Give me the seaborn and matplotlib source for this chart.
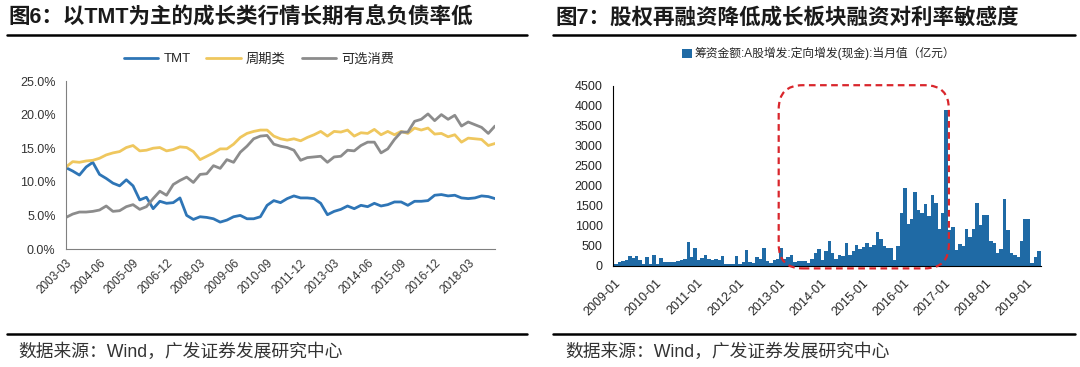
import numpy as np
import pandas as pd
import seaborn as sns
import matplotlib.pyplot as plt
from matplotlib.patches import FancyBboxPatch
from matplotlib.lines import Line2D

# left chart: quarterly interest-bearing debt ratio (%)
quarters = list(pd.date_range('2003-03-01', '2019-03-01', freq='3MS').strftime('%Y-%m'))
tmt = [12.1, 11.6, 11.0, 12.2, 12.9, 11.1, 10.5, 9.8, 9.4, 10.3,
       9.4, 7.3, 7.7, 6.0, 7.1, 6.8, 6.9, 7.6, 5.0, 4.4,
       4.8, 4.7, 4.5, 4.0, 4.3, 4.8, 5.0, 4.5, 4.5, 4.8,
       6.5, 7.2, 6.9, 7.5, 7.9, 7.6, 7.6, 7.5, 6.8, 5.1,
       5.6, 5.9, 6.4, 6.0, 6.5, 6.3, 6.8, 6.4, 6.6, 7.0,
       7.0, 6.5, 7.1, 7.1, 7.2, 8.0, 8.1, 7.9, 8.0, 7.6,
       7.5, 7.6, 7.9, 7.8, 7.5]
cyclical = [12.2, 13.0, 12.9, 13.1, 13.2, 13.5, 14.0, 14.3, 14.5, 15.1,
            15.4, 14.6, 14.7, 15.0, 15.1, 14.6, 14.8, 15.2, 15.1, 14.5,
            13.3, 13.8, 14.3, 14.9, 14.9, 15.6, 16.6, 17.2, 17.5, 17.7,
            17.7, 16.8, 16.4, 16.2, 16.4, 16.1, 16.6, 17.0, 17.5, 16.8,
            17.5, 17.4, 17.7, 16.8, 17.3, 17.2, 17.8, 17.0, 17.5, 17.0,
            17.5, 17.2, 18.0, 17.7, 18.0, 17.1, 17.2, 16.7, 17.0, 15.9,
            16.5, 16.4, 16.3, 15.4, 15.7]
consumer = [4.7, 5.2, 5.5, 5.5, 5.6, 5.8, 6.4, 5.6, 5.7, 6.3,
            6.6, 5.9, 6.3, 7.5, 8.6, 8.0, 9.6, 10.2, 10.7, 9.9,
            11.1, 11.2, 12.4, 12.0, 13.3, 12.9, 14.4, 15.3, 16.4, 16.8,
            16.9, 15.6, 15.3, 15.1, 14.7, 13.2, 13.6, 13.7, 13.8, 12.9,
            13.7, 13.8, 14.7, 14.6, 15.4, 15.9, 15.9, 14.3, 14.9, 16.3,
            17.4, 17.4, 19.0, 19.3, 20.1, 19.1, 20.0, 19.3, 19.9, 18.3,
            18.9, 18.5, 18.1, 17.2, 18.3]
series_names = ['TMT', '周期类', '可选消费']

# right chart: monthly private placement amount (100m yuan)
months = list(pd.date_range('2009-01-01', periods=124, freq='MS').strftime('%Y-%m'))
amount = [40, 110, 120, 140, 240, 190, 250, 160, 40, 220, 40, 270,
          60, 190, 110, 90, 110, 90, 120, 140, 170, 590, 220, 450,
          140, 210, 270, 170, 140, 170, 140, 240, 60, 60, 40, 240,
          60, 110, 390, 110, 80, 220, 180, 450, 130, 80, 150, 180,
          460, 170, 230, 270, 100, 120, 120, 120, 80, 170, 320, 420,
          150, 370, 630, 330, 170, 280, 250, 570, 270, 370, 530, 430,
          470, 580, 470, 520, 850, 680, 500, 460, 440, 150, 510, 1330,
          1950, 1050, 1170, 1860, 1400, 1330, 1550, 1250, 1770, 1580, 920, 1330,
          3900, 900, 980, 400, 550, 500, 920, 720, 930, 1580, 1020, 1280,
          1270, 630, 570, 330, 420, 1680, 900, 330, 270, 220, 630, 1170,
          1180, 80, 220, 370]
bar_label = '筹资金额:A股增发:定向增发(现金):当月值（亿元）'

sns.set_style('white')
plt.rcParams['font.family'] = ['Liberation Sans', 'Noto Sans CJK SC']

W, H = 1080, 367
fig = plt.figure(figsize=(W / 100, H / 100), dpi=100)

def px(x0, y0, x1, y1):
    return [x0 / W, 1 - y1 / H, (x1 - x0) / W, (y1 - y0) / H]

# ---------- left ----------
ax1 = fig.add_axes(px(66, 81, 495, 249))
df = pd.DataFrame({
    'q': np.tile(np.arange(len(quarters)), 3),
    'v': tmt + cyclical + consumer,
    's': np.repeat(series_names, len(quarters)),
})
sns.lineplot(data=df, x='q', y='v', hue='s', hue_order=series_names,
             palette=['#2E75B6', '#EFC75E', '#8C8C8C'], linewidth=2, ax=ax1)
ax1.set_xlim(0, len(quarters) - 1)
ax1.set_ylim(0, 25)
ax1.set_yticks(range(0, 26, 5))
ax1.set_yticklabels(['%.1f%%' % v for v in range(0, 26, 5)])
ax1.set_xticks(range(0, len(quarters), 5))
ax1.set_xticklabels(quarters[::5], rotation=45, ha='right', rotation_mode='anchor')
ax1.set_xticks(range(0, len(quarters), 6), minor=True)
ax1.tick_params(axis='x', which='major', length=0, pad=6, labelsize=8.5, colors='#333333')
ax1.tick_params(axis='x', which='minor', length=4, color='#808080', direction='out')
ax1.tick_params(axis='y', length=4, color='#808080', labelsize=9, colors='#333333')
ax1.tick_params(axis='y', color='#808080')
ax1.set_xlabel('')
ax1.set_ylabel('')
for s in ['top', 'right']:
    ax1.spines[s].set_visible(False)
for s in ['left', 'bottom']:
    ax1.spines[s].set_color('#808080')
h, l = ax1.get_legend_handles_labels()
ax1.legend(h, l, loc='center', bbox_to_anchor=(0.45, 1.13), ncol=3, frameon=False,
           fontsize=9.5, handlelength=2.6, columnspacing=1.2, handletextpad=0.4)

# ---------- right ----------
ax2 = fig.add_axes(px(613, 86, 1041, 266))
sns.barplot(x=np.arange(len(months)), y=amount, native_scale=True, color='#1F6AA5',
            saturation=1, width=1.0, linewidth=0, label=bar_label, ax=ax2)
ax2.set_xlim(-0.9, len(months) - 0.4)
ax2.set_ylim(0, 4500)
ax2.set_yticks(range(0, 4501, 500))
ax2.set_xticks([i - 0.5 for i in range(0, len(months), 12)])
ax2.set_xticklabels(months[::12], rotation=45, ha='right', rotation_mode='anchor')
ax2.tick_params(axis='x', length=4, direction='out', color='black', labelsize=9, pad=4)
ax2.tick_params(axis='y', length=4, direction='out', color='black', labelsize=9)
ax2.set_xlabel('')
ax2.set_ylabel('')
for s in ['top', 'right']:
    ax2.spines[s].set_visible(False)
for s in ['left', 'bottom']:
    ax2.spines[s].set_color('black')
ax2.legend(loc='center', bbox_to_anchor=(0.48, 1.18), frameon=False, fontsize=8.5,
           handlelength=0.8, handleheight=0.8, handletextpad=0.2)

# red dashed rounded box (radius ~24 px)
xpp = (len(months) - 0.4 + 0.9) / 428
ypp = 4500 / 180
box = FancyBboxPatch((47.3, -60), 96.8 - 47.3, 4520 + 60,
                     boxstyle='round,pad=0,rounding_size=%f' % (24 * xpp),
                     mutation_aspect=ypp / xpp, fill=False, edgecolor='#D9262C',
                     linewidth=1.6, linestyle=(0, (3, 2)), clip_on=False, zorder=5)
ax2.add_patch(box)

# ---------- titles, rules, sources ----------
fig.text(8 / W, 1 - 18 / H, '图6：以TMT为主的成长类行情长期有息负债率低', fontsize=15.5,
         fontweight='bold', va='center', ha='left', color='#1a1a1a')
fig.text(555 / W, 1 - 18 / H, '图7：股权再融资降低成长板块融资对利率敏感度', fontsize=15.5,
         fontweight='bold', va='center', ha='left', color='#1a1a1a')
for x0, x1 in [(7, 527), (553, 1075)]:
    fig.add_artist(Line2D([x0 / W, x1 / W], [1 - 35 / H] * 2, color='black', linewidth=1.8))
    fig.add_artist(Line2D([x0 / W, x1 / W], [1 - 334 / H] * 2, color='black', linewidth=1.8))
fig.text(18 / W, 1 - 352 / H, '数据来源：Wind，广发证券发展研究中心', fontsize=12.8,
         va='center', ha='left', color='#333333')
fig.text(565 / W, 1 - 352 / H, '数据来源：Wind，广发证券发展研究中心', fontsize=12.8,
         va='center', ha='left', color='#333333')

fig.savefig('out.png', dpi=100)
